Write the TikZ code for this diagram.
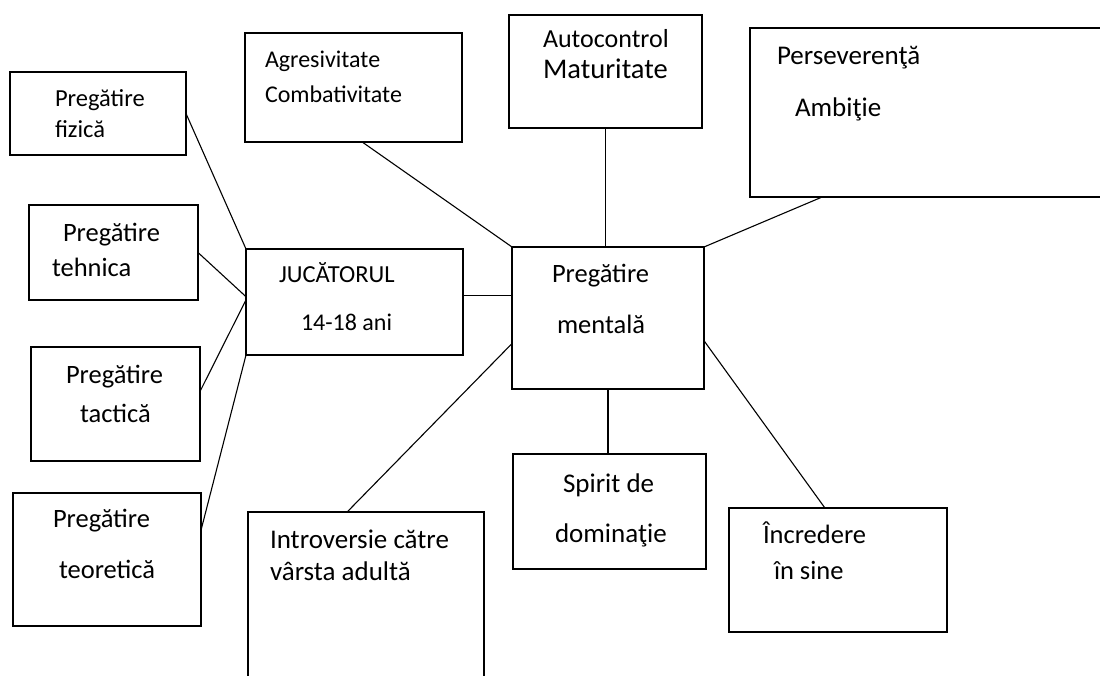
\documentclass[tikz,border=0pt]{standalone}
\usepackage{fontspec}
\setmainfont{Carlito}
\usetikzlibrary{calc}
\tikzset{
  box/.style={draw=black, line width=1.3pt, inner sep=0pt, outer sep=0pt, fill=none},
  conn/.style={draw=black, line width=1.1pt},
  lbl/.style={anchor=base west, inner sep=0pt, outer sep=0pt, font=\fontsize{#1}{#1}\selectfont, text=black},
  lbl/.default=26.5,
}
\begin{document}
\begin{tikzpicture}[x=1pt,y=-1pt]
\fill[white] (0,0) rectangle (1100,676);
\clip (0,0) rectangle (1100,676);
\useasboundingbox (0,0) rectangle (1100,676);
% boxes
\node[box, minimum width=176pt, minimum height=83pt]  (fiz)  at (98,113.5) {};
\node[box, minimum width=169pt, minimum height=95pt]  (teh)  at (113.5,252.5) {};
\node[box, minimum width=169pt, minimum height=114pt] (tac)  at (115.5,404) {};
\node[box, minimum width=188pt, minimum height=133pt] (teo)  at (107,559.5) {};
\node[box, minimum width=217pt, minimum height=109pt] (agr)  at (353.5,87.5) {};
\node[box, minimum width=193pt, minimum height=113pt] (aut)  at (605.5,71.5) {};
\node[box, minimum width=370pt, minimum height=169pt] (per)  at (935,112.5) {};
\node[box, minimum width=217pt, minimum height=106pt] (jug)  at (354.5,302) {};
\node[box, minimum width=192pt, minimum height=142pt] (men)  at (608,318) {};
\node[box, minimum width=193pt, minimum height=115pt] (spi)  at (609.5,511.5) {};
\node[box, minimum width=236pt, minimum height=188pt] (intr) at (366,606) {};
\node[box, minimum width=218pt, minimum height=124pt] (inc)  at (838,570) {};
% texts
\node[lbl=24.5] (fiz1) at (55,107) {Pregătire};
\node[lbl=24.5] (fiz2) at (55,138) {fizică};
\node[lbl] (teh1) at (63,242) {Pregătire};
\node[lbl] (teh2) at (52,277) {tehnica};
\node[lbl] (tac1) at (66,383) {Pregătire};
\node[lbl] (tac2) at (80,422) {tactică};
\node[lbl] (teo1) at (53,527) {Pregătire};
\node[lbl] (teo2) at (59,578) {teoretică};
\node[lbl=24] (agr1) at (265,68) {Agresivitate};
\node[lbl=24] (agr2) at (265,103) {Combativitate};
\node[lbl=26] (aut1) at (543,48) {Autocontrol};
\node[lbl=28.5] (aut2) at (543,79) {Maturitate};
\node[lbl=27] (per1) at (777,65) {Perseverenţă};
\node[lbl=27] (per2) at (795,117) {Ambiţie};
\node[lbl=24.5] (jug1) at (279,283) {JUCĂTORUL};
\node[lbl=24] (jug2) at (301,330) {14-18 ani};
\node[lbl] (men1) at (552,283) {Pregătire};
\node[lbl] (men2) at (557,333) {mentală};
\node[lbl=27] (spi1) at (563,492) {Spirit de};
\node[lbl=27] (spi2) at (555,542) {dominaţie};
\node[lbl=27] (intr1) at (270,548) {Introversie către};
\node[lbl=27] (intr2) at (270,580) {vârsta adultă};
\node[lbl] (inc1) at (763,543) {Încredere};
\node[lbl] (inc2) at (774,579) {în sine};
% connectors
\coordinate (jm) at ($(jug.north east)!0.44!(jug.south east)$);
\draw[conn] (fiz.east) -- (jug.north west);
\draw[conn] (teh.east) -- ($(jug.north west)!0.45!(jug.south west)$);
\draw[conn] ($(tac.north east)!0.39!(tac.south east)$) -- ($(jug.north west)!0.48!(jug.south west)$);
\draw[conn] ($(teo.north east)!0.28!(teo.south east)$) -- (jug.south west);
\draw[conn] (jm) -- (jm -| men.west);
\draw[conn] ($(agr.south west)!0.54!(agr.south east)$) -- (men.north west);
\draw[conn] (aut.south) -- (aut.south |- men.north);
\draw[conn] ($(per.south west)!0.195!(per.south east)$) -- (men.north east);
\draw[conn] ($(men.north west)!0.68!(men.south west)$) -- ($(intr.north west)!0.42!(intr.north east)$);
\draw[conn] (men.south) -- (men.south |- spi.north);
\draw[conn] ($(men.north east)!0.66!(men.south east)$) -- ($(inc.north west)!0.44!(inc.north east)$);
\end{tikzpicture}
\end{document}
